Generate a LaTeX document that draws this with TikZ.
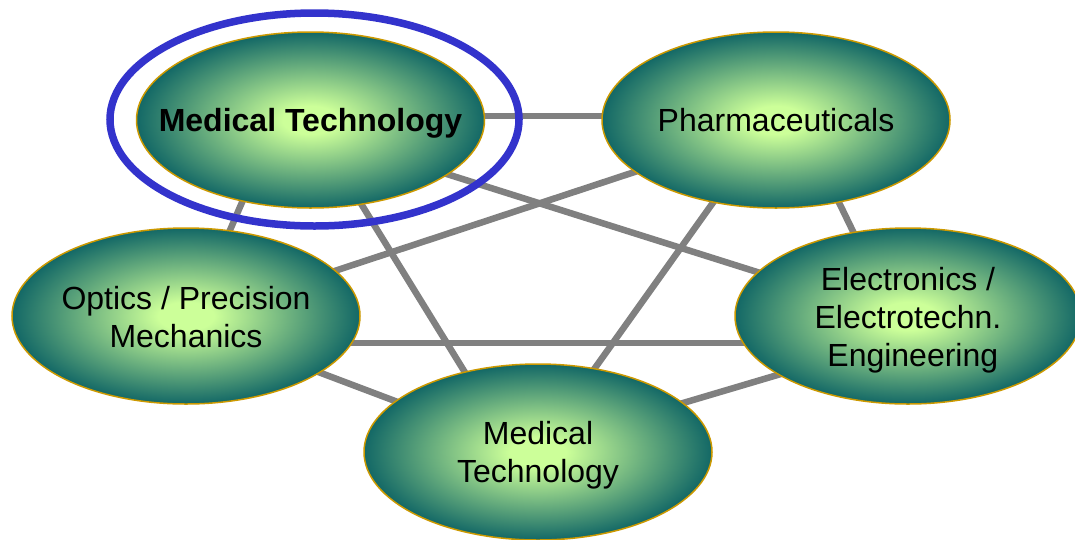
\documentclass[tikz,border=0pt]{standalone}
\usepackage{fontspec}
\setmainfont{Liberation Sans}
\usetikzlibrary{shapes.geometric,backgrounds,calc}
\definecolor{balllight}{RGB}{204,255,153}
\definecolor{balldark}{RGB}{19,104,102}
\definecolor{ballrim}{RGB}{204,153,0}
\definecolor{ringblue}{RGB}{51,51,204}
\definecolor{linkgray}{RGB}{128,128,128}
\pgfdeclareradialshading{ballshade}{\pgfpoint{0bp}{0bp}}{color(0bp)=(balllight); color(4bp)=(balllight); color(25bp)=(balldark); color(50bp)=(balldark)}
\tikzset{
  ball/.style 2 args={ellipse, shade, shading=ballshade, draw=ballrim, line width=1.5pt,
    minimum width=348pt, minimum height=176pt, inner sep=0pt,
    label={[align=center, font=\fontsize{32}{38}\selectfont, inner sep=0pt, yshift=#2]center:#1}},
  link/.style={draw=linkgray, line width=6.5pt},
  ring/.style={ellipse, draw=ringblue, line width=7.5pt, minimum width=409pt,
    minimum height=213pt, inner sep=0pt}
}
\begin{document}
\begin{tikzpicture}[x=1pt,y=-1pt]
\useasboundingbox (0,0) rectangle (1075,539);
\clip (0,0) rectangle (1075,539);
\node[ball={\bfseries Medical Technology}{-3.5pt}] (mt) at (310.5,120) {};
\node[ball={Pharmaceuticals}{0pt}] (ph) at (776,120) {};
\node[ball={Optics / Precision\\Mechanics}{-1pt}] (op) at (186,316) {};
\node[ball={Electronics /\\Electrotechn.\\\hspace{0.3em}Engineering}{-4pt}, minimum width=346pt] (el) at (908,316) {};
\node[ball={Medical\\Technology}{-3.5pt}] (mb) at (538,452) {};
\node[ring] (hl) at (314.5,119.5) {};
\begin{pgfonlayer}{background}
\fill[white] (0,0) rectangle (1075,539);
\draw[link] ($(mt)+(0,-4)$) -- ($(ph)+(0,-4)$);
\draw[link] ($(mt)+(-33,0)$) -- ($(op)+(7,0)$);
\draw[link] ($(mt)+(0,11)$) -- ($(el)+(-2,3)$);
\draw[link] ($(mt)+(-1,0)$) -- ($(mb)+(-24,0)$);
\draw[link] ($(ph)+(1,5)$) -- ($(op)+(0,4)$);
\draw[link] ($(ph)+(23,0)$) -- ($(el)+(-14,0)$);
\draw[link] ($(ph)+(-4,0)$) -- ($(mb)+(-3,0)$);
\draw[link] ($(op)+(0,27)$) -- ($(el)+(0,27)$);
\draw[link] ($(op)+(0,6)$) -- ($(mb)+(0,3)$);
\draw[link] ($(el)+(1,20)$) -- ($(mb)+(0,-6)$);
\end{pgfonlayer}
\end{tikzpicture}
\end{document}
